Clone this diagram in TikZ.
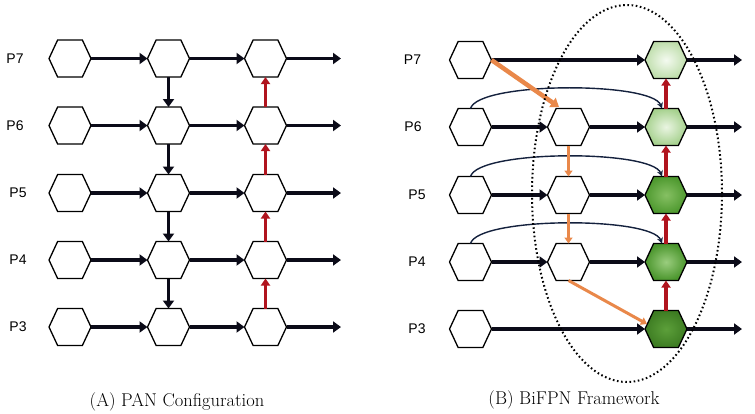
\documentclass[tikz,border=0pt]{standalone}
\usepackage{fontspec}
\newfontfamily\labfont{Liberation Sans}
\usetikzlibrary{shapes.symbols,arrows.meta,calc}
\definecolor{arr}{HTML}{0B0B18}
\definecolor{redarr}{HTML}{B0141E}
\definecolor{orng}{HTML}{E9884A}
\definecolor{arccol}{HTML}{14213D}
\definecolor{gsevin}{HTML}{F4FAF0}\definecolor{gsevout}{HTML}{BFDEAC}
\definecolor{gsixin}{HTML}{EAF5E2}\definecolor{gsixout}{HTML}{A6D18E}
\definecolor{gfivin}{HTML}{86C063}\definecolor{gfivout}{HTML}{4E992F}
\definecolor{gfourin}{HTML}{9ACD7E}\definecolor{gfourout}{HTML}{4A952C}
\definecolor{gthrin}{HTML}{5C9F3A}\definecolor{gthrout}{HTML}{3D7C22}
\begin{document}
\begin{tikzpicture}[x=1pt,y=-1pt,
  hexa/.style={signal, signal to=east and west, signal pointer angle=130,
    draw=black, line width=1.3pt, minimum width=42pt, minimum height=37pt,
    inner sep=0pt, outer sep=0pt, fill=white},
  flow/.style={draw=arr, line width=3.6pt, -{Triangle[length=8pt,width=11pt]}},
  redup/.style={draw=redarr, line width=3.4pt, -{Triangle[length=7pt,width=9pt]}},
  orthick/.style={draw=orng, line width=4.5pt, -{Triangle[length=8pt,width=11pt]}},
  orthin/.style={draw=orng, line width=3pt, -{Triangle[length=6pt,width=8pt]}},
  skip/.style={draw=arccol, line width=1.4pt, -{Stealth[length=6pt,width=6pt]}},
  dots/.style={draw=black, line width=2pt, dash pattern=on 1.6pt off 2.6pt},
  plab/.style={font=\labfont\fontsize{14}{16}\selectfont},
  captext/.style={font=\fontsize{18.5}{22}\selectfont}]
\useasboundingbox (0,0) rectangle (755,413);

% ---------- Panel A ----------
\foreach \r/\y/\lx in {7/58.5/15, 6/125.5/15, 5/193/18, 4/260/18, 3/327/18} {
  \node[plab] (la\r) at (\lx,\y) {P\r};
  \node[hexa] (a1\r) at (70,\y) {};
  \node[hexa] (a2\r) at (168.5,\y) {};
  \node[hexa] (a3\r) at (265.5,\y) {};
  \coordinate (ae\r) at (341,\y);
  \draw[flow] (a1\r.east) -- (a2\r.west);
  \draw[flow] (a2\r.east) -- (a3\r.west);
  \draw[flow] (a3\r.east) -- (ae\r);
}
\foreach \p/\q in {7/6, 6/5, 5/4, 4/3} {
  \draw[flow] (a2\p.south) -- (a2\q.north);
  \draw[redup] (a3\q.north) -- (a3\p.south);
}

% ---------- Panel B ----------
\foreach \r/\y/\lx in {7/60/412.5, 6/127/413, 5/195/417, 4/262/417, 3/329/417} {
  \node[plab] (lb\r) at (\lx,\y) {P\r};
  \node[hexa] (b1\r) at (470.5,\y) {};
  \coordinate (be\r) at (742,\y);
}
\foreach \r/\y in {6/127, 5/195, 4/262} {
  \node[hexa] (b2\r) at (568.5,\y) {};
}
\node[hexa, inner color=gsevin, outer color=gsevout] (b37) at (666,60) {};
\node[hexa, inner color=gsixin, outer color=gsixout] (b36) at (666,127) {};
\node[hexa, inner color=gfivin, outer color=gfivout] (b35) at (666,195) {};
\node[hexa, inner color=gfourin, outer color=gfourout] (b34) at (666,262) {};
\node[hexa, inner color=gthrin, outer color=gthrout] (b33) at (666,329) {};

\foreach \r in {6,5,4} {
  \draw[flow] (b1\r.east) -- (b2\r.west);
  \draw[flow] (b2\r.east) -- (b3\r.west);
}
\draw[flow] (b17.east) -- (b37.west);
\draw[flow] (b13.east) -- (b33.west);
\foreach \r in {7,6,5,4,3} {
  \draw[flow] (b3\r.east) -- (be\r);
}
\foreach \p/\q in {7/6, 6/5, 5/4, 4/3} {
  \draw[redup] (b3\q.north) -- (b3\p.south);
}
% skip connections
\foreach \r in {6,5,4} {
  \draw[skip] (b1\r.north) .. controls ($(b1\r.north)+(8,-27)$) and ($(b3\r.north)+(-14,-27)$) .. ($(b3\r.north)+(-4,0)$);
}
% orange top-down
\draw[orthick] (b17.east) -- ($(b26.north)+(-9.5,-1.5)$);
\draw[orthin] (b26.south) -- (b25.north);
\draw[orthin] (b25.south) -- (b24.north);
\draw[orthin] (b24.south) -- ($(b33.west)+(2,-5)$);

% dotted ellipse
\draw[dots] (627,193.5) ellipse [x radius=95pt, y radius=188.5pt];

% captions
\node[captext] (capA) at (177,402) {(A) PAN Configuration};
\node[captext] (capB) at (574,400) {(B) BiFPN Framework};
\end{tikzpicture}
\end{document}
